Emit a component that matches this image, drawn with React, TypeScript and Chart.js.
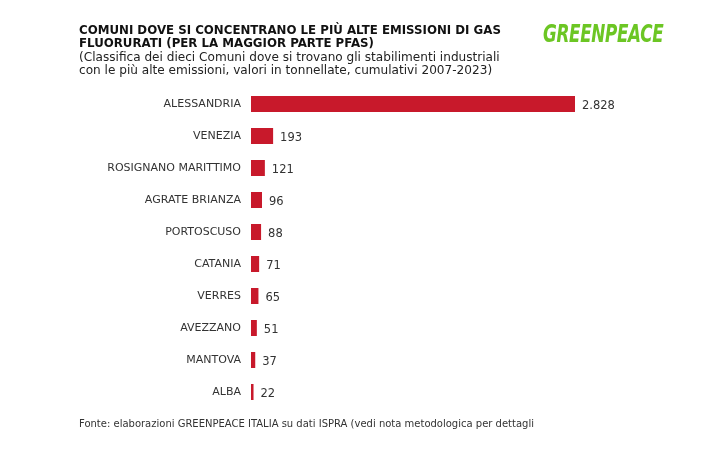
import React, { useEffect, useRef } from "react";
import { Chart, registerables } from "chart.js";

Chart.register(...registerables);

const categories = [
  "ALESSANDRIA",
  "VENEZIA",
  "ROSIGNANO MARITTIMO",
  "AGRATE BRIANZA",
  "PORTOSCUSO",
  "CATANIA",
  "VERRES",
  "AVEZZANO",
  "MANTOVA",
  "ALBA",
];
const values = [2828, 193, 121, 96, 88, 71, 65, 51, 37, 22];

const titleLines = [
  "COMUNI DOVE SI CONCENTRANO LE PIÙ ALTE EMISSIONI DI GAS",
  "FLUORURATI (PER LA MAGGIOR PARTE PFAS)",
];
const subtitleLines = [
  "(Classifica dei dieci Comuni dove si trovano gli stabilimenti industriali",
  "con le più alte emissioni, valori in tonnellate, cumulativi 2007-2023)",
];
const footer =
  "Fonte: elaborazioni GREENPEACE ITALIA su dati ISPRA (vedi nota metodologica per dettagli";

const FONT = "'DejaVu Sans', 'Open Sans', sans-serif";
const BAR_COLOR = "#C8192B";

function fmt(v: number): string {
  const s = String(Math.round(v));
  return s.replace(/\B(?=(\d{3})+(?!\d))/g, ".");
}

const valueLabels = {
  id: "valueLabels",
  afterDatasetsDraw(chart: any) {
    const ctx = chart.ctx;
    const meta = chart.getDatasetMeta(0);
    ctx.save();
    ctx.font = `11.5px ${FONT}`;
    ctx.fillStyle = "#333333";
    ctx.textAlign = "left";
    ctx.textBaseline = "middle";
    meta.data.forEach((bar: any, i: number) => {
      ctx.fillText(fmt(values[i]), bar.x + 7, bar.y + 2);
    });
    ctx.restore();
  },
};

export default function App() {
  const ref = useRef<HTMLCanvasElement>(null);
  useEffect(() => {
    document.body.style.margin = "0";
    const chart = new Chart(ref.current!, {
      type: "bar",
      data: {
        labels: categories,
        datasets: [
          {
            data: values,
            backgroundColor: BAR_COLOR,
            borderWidth: 0,
            barPercentage: 0.5,
            categoryPercentage: 1,
          },
        ],
      },
      options: {
        indexAxis: "y",
        animation: false,
        responsive: false,
        maintainAspectRatio: false,
        layout: { padding: { left: 0, right: 126, top: 88, bottom: 54 } },
        plugins: {
          legend: { display: false },
          tooltip: { enabled: false },
          title: { display: false },
        },
        scales: {
          x: { display: false, min: 0, max: 2828 },
          y: {
            grid: { display: false, drawTicks: false },
            border: { display: false },
            ticks: {
              color: "#333333",
              font: { family: FONT, size: 11 },
              padding: 10,
            },
            afterFit: (scale: any) => {
              scale.width = 251;
            },
          },
        },
      },
      plugins: [valueLabels],
    });
    return () => chart.destroy();
  }, []);

  return (
    <div
      style={{
        position: "relative",
        width: 701,
        height: 462,
        background: "#ffffff",
        fontFamily: FONT,
        overflow: "hidden",
      }}
    >
      <canvas ref={ref} width={701} height={462} style={{ position: "absolute", left: 0, top: 0 }} />
      <div
        style={{
          position: "absolute",
          left: 79,
          top: 24,
          fontSize: 11.8,
          fontWeight: 700,
          lineHeight: "13px",
          color: "#111111",
          whiteSpace: "nowrap",
        }}
      >
        {titleLines.map((l, i) => (
          <div key={i}>{l}</div>
        ))}
      </div>
      <div
        style={{
          position: "absolute",
          left: 79,
          top: 51,
          fontSize: 12.1,
          lineHeight: "13px",
          color: "#222222",
          whiteSpace: "nowrap",
        }}
      >
        {subtitleLines.map((l, i) => (
          <div key={i}>{l}</div>
        ))}
      </div>
      <div
        style={{
          position: "absolute",
          left: 543,
          top: 20,
          fontSize: 24,
          fontWeight: 900,
          fontStyle: "italic",
          color: "#6CC624",
          letterSpacing: -0.5,
          transform: "scaleX(0.7)",
          transformOrigin: "left top",
          whiteSpace: "nowrap",
        }}
      >
        GREENPEACE
      </div>
      <div
        style={{
          position: "absolute",
          left: 79,
          top: 418,
          fontSize: 10,
          color: "#333333",
          whiteSpace: "nowrap",
        }}
      >
        {footer}
      </div>
    </div>
  );
}
